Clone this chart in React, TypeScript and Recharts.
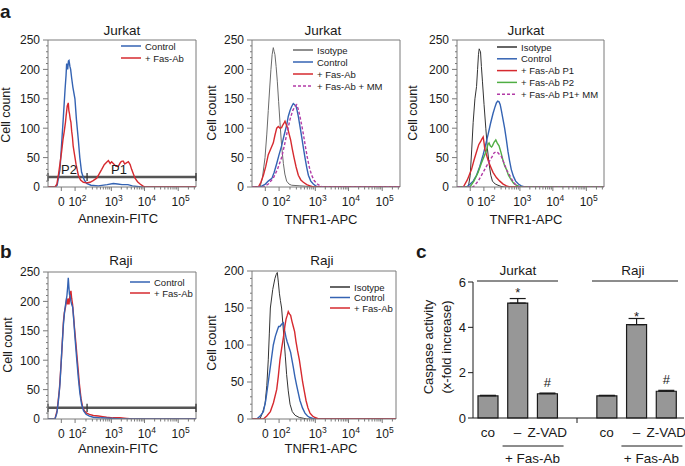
import React from "react";
import {
  LineChart,
  Line,
  XAxis,
  YAxis,
  ReferenceLine,
  BarChart,
  Bar,
  ErrorBar,
  LabelList,
} from "recharts";

const FONT = '"Liberation Sans", Arial, Helvetica, sans-serif';
const INK = "#1a1a1a";
const FRAME = "#7a7a7a";
const BLUE = "#3463b3";
const RED = "#d62a2f";
const GREEN = "#4fae43";
const PURPLE = "#b23aa6";

// flow cytometry x axis, in channel units (0..1000 across the plot)
const xTickPos = [90, 183, 428, 652, 880];
const xTickLabels = ["0", "10|2", "10|3", "10|4", "10|5"];

// histograms: [channel, cell count]
const annexinControlJ = [[0,0],[50,0],[62,3],[81,30],[95,85],[104,120],[115,165],[122,190],[126,210],[133,200],[138,214],[142,215],[148,205],[153,200],[160,185],[168,170],[182,150],[192,115],[205,80],[215,50],[227,25],[245,12],[261,6],[290,3],[340,2],[400,4],[441,6],[470,5],[500,4],[540,4],[570,2],[600,1],[630,0],[1000,0]];
const annexinFasJ = [[0,0],[47,0],[60,5],[70,20],[81,40],[92,60],[101,80],[110,95],[118,110],[122,120],[130,138],[137,143],[141,130],[145,125],[150,116],[155,110],[160,95],[165,85],[170,70],[176,60],[190,38],[205,20],[220,12],[239,8],[260,7],[284,8],[305,11],[329,15],[345,22],[363,30],[380,38],[396,42],[408,45],[420,40],[430,43],[441,40],[460,35],[475,35],[490,42],[500,44],[509,44],[518,39],[530,41],[543,43],[555,38],[565,30],[577,22],[588,15],[605,9],[622,5],[640,2],[655,0],[1000,0]];

const tnfIsoJ = [[0,0],[54,0],[70,15],[88,50],[100,90],[110,130],[120,170],[128,200],[136,225],[144,237],[150,230],[155,225],[163,205],[171,180],[180,145],[189,110],[200,70],[212,40],[222,22],[234,10],[250,5],[268,3],[324,2],[380,1],[414,0],[1000,0]];
const tnfControlJ = [[0,0],[54,0],[90,5],[110,10],[135,15],[150,25],[167,40],[183,55],[200,70],[217,88],[234,105],[245,120],[257,130],[268,137],[279,142],[288,140],[297,138],[305,130],[313,120],[325,102],[336,85],[347,67],[358,50],[370,33],[381,20],[397,10],[414,5],[430,2],[448,0],[1000,0]];
const tnfFasJ = [[0,0],[43,0],[60,8],[77,20],[93,35],[110,55],[127,65],[144,75],[155,88],[167,100],[178,103],[189,100],[200,101],[207,105],[215,108],[223,112],[232,106],[241,100],[251,90],[261,80],[272,65],[284,50],[298,34],[313,20],[330,12],[347,8],[370,4],[392,2],[415,0],[1000,0]];
const tnfFasMMJ = [[0,0],[77,0],[110,5],[144,15],[172,30],[200,50],[220,72],[239,95],[257,115],[275,130],[290,137],[302,140],[313,132],[324,120],[336,105],[347,90],[360,70],[374,50],[388,33],[403,20],[420,11],[441,5],[460,2],[480,0],[1000,0]];

const gateIsoJ = [[0,0],[77,0],[90,20],[100,63],[110,110],[122,150],[133,171],[140,200],[146,225],[151,235],[156,232],[160,230],[166,205],[173,180],[184,140],[196,100],[207,65],[218,40],[230,20],[241,10],[260,5],[279,3],[300,1],[320,0],[1000,0]];
const gateControlJ = [[0,0],[65,0],[90,5],[110,10],[133,20],[155,35],[178,55],[195,72],[212,90],[228,108],[245,125],[257,135],[268,143],[277,146],[286,145],[294,140],[302,130],[313,115],[324,100],[336,80],[347,60],[358,44],[369,30],[384,18],[399,10],[418,5],[437,2],[460,0],[1000,0]];
const gateP1J = [[0,0],[43,0],[70,12],[99,30],[115,45],[133,60],[148,72],[162,78],[170,82],[178,85],[184,75],[189,65],[200,55],[212,45],[228,35],[245,25],[268,16],[291,10],[314,5],[336,2],[360,0],[1000,0]];
const gateP2J = [[0,0],[88,0],[115,10],[144,25],[165,40],[189,55],[200,62],[210,72],[218,75],[226,70],[235,68],[241,70],[252,76],[264,80],[275,74],[286,70],[300,58],[313,45],[324,36],[336,30],[350,20],[369,12],[386,6],[403,3],[430,0],[1000,0]];
const gateP1MMJ = [[0,0],[110,0],[144,10],[178,25],[200,35],[223,45],[240,52],[252,58],[265,60],[279,58],[290,55],[302,52],[313,45],[324,38],[340,28],[358,20],[375,12],[392,6],[410,2],[426,0],[1000,0]];

const annexinControlR = [[0,0],[47,0],[60,10],[70,30],[81,60],[92,110],[104,160],[113,185],[122,200],[128,210],[133,225],[137,240],[141,225],[145,212],[149,210],[155,200],[160,195],[167,190],[175,165],[182,140],[193,105],[205,70],[215,45],[227,25],[240,14],[257,8],[280,5],[306,3],[360,2],[441,1],[500,0],[1000,0]];
const annexinFasR = [[0,0],[47,0],[62,15],[77,50],[90,100],[104,165],[110,180],[118,190],[126,205],[132,195],[138,205],[142,195],[148,210],[155,218],[160,205],[166,195],[171,180],[179,155],[188,130],[200,95],[212,60],[223,35],[234,20],[248,13],[261,10],[280,8],[306,6],[340,5],[370,4],[396,3],[440,2],[486,2],[530,1],[577,0],[1000,0]];

const tnfIsoR = [[0,0],[54,0],[70,8],[88,20],[100,45],[110,80],[117,115],[124,150],[140,175],[155,190],[163,195],[171,198],[178,185],[185,170],[192,160],[200,150],[208,130],[216,110],[225,85],[234,60],[245,38],[257,20],[272,10],[291,5],[320,2],[347,1],[370,0],[1000,0]];
const tnfControlR = [[0,0],[32,0],[55,4],[77,10],[93,25],[110,50],[127,75],[144,100],[158,112],[171,120],[180,125],[189,125],[200,128],[212,130],[220,120],[230,110],[238,104],[245,100],[253,95],[261,90],[270,80],[279,70],[290,57],[302,45],[313,35],[324,25],[341,15],[358,8],[375,4],[392,2],[420,0],[1000,0]];
const tnfFasR = [[0,0],[77,0],[100,4],[124,10],[145,22],[167,40],[178,58],[189,80],[200,95],[212,110],[222,125],[230,135],[238,140],[245,145],[253,142],[261,140],[270,132],[279,125],[288,118],[297,105],[308,92],[320,80],[331,65],[342,50],[354,37],[365,25],[378,15],[392,8],[409,4],[426,2],[450,0],[1000,0]];

// annexin gates P2 / P1
const gateBounds = [0, 264, 1000];
const gateLevelJ = 17;
const gateLevelR = 19;

// caspase assay
const caspaseCats = ["co", "–", "Z-VAD", "", "co", "–", "Z-VAD"];
const caspaseMeans = [0.98, 5.07, 1.07, null, 0.98, 4.12, 1.18];
const caspaseErrs = [0.02, 0.2, 0.03, null, 0.02, 0.27, 0.04];
const caspaseMarks = ["", "*", "#", "", "", "*", "#"];

const pts = (arr: number[][]) => arr.map(([ch, n]) => ({ ch, n }));

type Series = { name: string; data: number[][]; color: string; dashed?: boolean; w?: number };

const minorX: number[] = [];
for (let i = 1; i < xTickPos.length - 1; i++) {
  const a = xTickPos[i], b = xTickPos[i + 1];
  for (let k = 2; k <= 9; k++) minorX.push(a + Math.log10(k) * (b - a));
}
[2, 3].forEach((k) => minorX.push(880 + Math.log10(k) * 228));
const allXTicks = [...xTickPos, ...minorX].sort((a, b) => a - b);

const FlowXTick = (props: any) => {
  const { x, y, payload } = props;
  const idx = xTickPos.indexOf(payload.value);
  if (idx < 0) return <line x1={x} x2={x} y1={y} y2={y + 2.5} stroke={FRAME} />;
  const [base, exp] = xTickLabels[idx].split("|");
  return (
    <g>
      <line x1={x} x2={x} y1={y} y2={y + 4} stroke={FRAME} />
      <text x={exp ? x - 6.7 : x} y={y + 18.5} textAnchor={exp ? "start" : "middle"} fontSize={12} fill={INK}>
        {base}
        {exp && <tspan dy={-5} fontSize={8.5}>{exp}</tspan>}
      </text>
    </g>
  );
};

const CountTick = (props: any) => {
  const { x, y, payload } = props;
  const major = payload.value % 50 === 0;
  return (
    <g>
      <line x1={x - (major ? 5 : 2)} x2={x} y1={y} y2={y} stroke={FRAME} />
      {major && (
        <text x={x - 8} y={y} dy="0.36em" textAnchor="end" fontSize={12} fill={INK}>
          {payload.value}
        </text>
      )}
    </g>
  );
};

function Histogram({ box, xMax = 1000, yMax, series, gate }: {
  box: number[]; xMax?: number; yMax: number; series: Series[]; gate?: number;
}) {
  const [x0, y0, x1, y1] = box;
  const left = x0 - 48;
  const top = y0 - 10;
  const width = x1 - left + 6;
  const height = y1 - top + 40;
  const yTicks: number[] = [];
  for (let v = 0; v <= yMax; v += 10) yTicks.push(v);
  return (
    <div style={{ position: "absolute", left, top }}>
      <LineChart width={width} height={height} margin={{ top: 10, right: 6, bottom: 0, left: 8 }}>
        <XAxis type="number" dataKey="ch" domain={[0, xMax]} ticks={allXTicks.filter((t) => t <= xMax)}
          interval={0} tickSize={0} tickMargin={0} tickLine={false} tick={(p: any) => <FlowXTick {...p} />}
          height={40} axisLine={{ stroke: FRAME }} allowDataOverflow />
        <YAxis type="number" domain={[0, yMax]} ticks={yTicks} interval={0} width={40} tickSize={0}
          tickMargin={0} tickLine={false} tick={(p: any) => <CountTick {...p} />} axisLine={{ stroke: FRAME }}
          allowDataOverflow />
        <ReferenceLine y={yMax} stroke={FRAME} ifOverflow="visible" />
        <ReferenceLine x={xMax} stroke={FRAME} ifOverflow="visible" />
        {gate !== undefined && <ReferenceLine y={gate} stroke="#555" strokeWidth={2.5} />}
        {gate !== undefined &&
          gateBounds.map((g) => (
            <ReferenceLine key={g} segment={[{ x: g, y: gate - 7 }, { x: g, y: gate + 7 }]} stroke="#333"
              strokeWidth={1.3} ifOverflow="visible" />
          ))}
        {series.map((s) => (
          <Line key={s.name} data={pts(s.data)} dataKey="n" type="linear" stroke={s.color} dot={false}
            activeDot={false} strokeWidth={s.w ?? 1.4} strokeDasharray={s.dashed ? "3 2" : undefined}
            isAnimationActive={false} />
        ))}
      </LineChart>
    </div>
  );
}

function LegendBlock({ x, y, dy, series, lineW = 20 }: { x: number; y: number; dy: number; series: Series[]; lineW?: number }) {
  return (
    <g>
      {series.map((s, i) => (
        <g key={s.name}>
          <line x1={x} x2={x + lineW} y1={y + i * dy} y2={y + i * dy} stroke={s.color} strokeWidth={1.5}
            strokeDasharray={s.dashed ? "3 2" : undefined} />
          <text x={x + lineW + 4} y={y + i * dy + 3.5} fontSize={9.5} fill={INK}>{s.name}</text>
        </g>
      ))}
    </g>
  );
}

const a1Series: Series[] = [
  { name: "Control", data: annexinControlJ, color: BLUE },
  { name: "+ Fas-Ab", data: annexinFasJ, color: RED },
];
const a2Series: Series[] = [
  { name: "Isotype", data: tnfIsoJ, color: "#6a6a6a", w: 1 },
  { name: "Control", data: tnfControlJ, color: BLUE },
  { name: "+ Fas-Ab", data: tnfFasJ, color: RED },
  { name: "+ Fas-Ab + MM", data: tnfFasMMJ, color: PURPLE, dashed: true },
];
const a3Series: Series[] = [
  { name: "Isotype", data: gateIsoJ, color: "#333", w: 1 },
  { name: "Control", data: gateControlJ, color: BLUE },
  { name: "+ Fas-Ab P1", data: gateP1J, color: RED },
  { name: "+ Fas-Ab P2", data: gateP2J, color: GREEN },
  { name: "+ Fas-Ab P1+ MM", data: gateP1MMJ, color: PURPLE, dashed: true },
];
const b1Series: Series[] = [
  { name: "+ Fas-Ab", data: annexinFasR, color: RED },
  { name: "Control", data: annexinControlR, color: BLUE },
];
const b1Legend: Series[] = [b1Series[1], b1Series[0]];
const b2Series: Series[] = [
  { name: "Isotype", data: tnfIsoR, color: "#333", w: 1 },
  { name: "Control", data: tnfControlR, color: BLUE },
  { name: "+ Fas-Ab", data: tnfFasR, color: RED },
];

const caspaseData = caspaseCats.map((c, i) => ({
  key: i,
  mean: caspaseMeans[i],
  err: caspaseErrs[i] == null ? [0, 0] : [0, caspaseErrs[i] as number],
  mark: caspaseMarks[i],
}));

const CaspaseXTick = (props: any) => {
  const { x, y, payload } = props;
  const i = payload.value as number;
  const label = caspaseCats[i];
  return (
    <g>
      {label === "" && <line x1={x} x2={x} y1={y} y2={y + 5} stroke={INK} />}
      <text x={x} y={y + 19} textAnchor="middle" fontSize={13.5} fill={INK}>{label}</text>
      {label === "–" && (
        <g>
          <line x1={x - 15} x2={x + 46} y1={y + 28} y2={y + 28} stroke={INK} strokeWidth={1} />
          <text x={x + 15} y={y + 45} textAnchor="middle" fontSize={13.5} fill={INK}>+ Fas-Ab</text>
        </g>
      )}
    </g>
  );
};

const MarkLabel = (props: any) => {
  const { x, y, width, height, value, index } = props;
  if (!value) return null;
  const mean = caspaseMeans[index] as number;
  const err = caspaseErrs[index] as number;
  const errTop = y - (err * Math.abs(height)) / mean;
  return (
    <text x={x + width / 2} y={errTop - (value === "*" ? 2 : 6)} textAnchor="middle" fontSize={13} fill={INK}>
      {value}
    </text>
  );
};

function CaspaseChart() {
  return (
    <div style={{ position: "absolute", left: 420, top: 235 }}>
      <BarChart width={265} height={231} data={caspaseData} margin={{ top: 47, right: 1, left: 8, bottom: 0 }}>
        <XAxis dataKey="key" type="category" interval={0} tickLine={false} tickSize={0} tickMargin={0}
          height={48} padding={{ left: 0, right: 3 }} axisLine={{ stroke: INK }}
          tick={(p: any) => <CaspaseXTick {...p} />} />
        <YAxis type="number" domain={[0, 6]} ticks={[0, 2, 4, 6]} width={45} tickSize={5} tickMargin={2}
          axisLine={{ stroke: INK }} tickLine={{ stroke: INK }} tick={{ fill: INK, fontSize: 13 }} />
        <Bar dataKey="mean" fill="#979797" stroke="#1a1a1a" strokeWidth={1.2} barSize={20} isAnimationActive={false}>
          <ErrorBar dataKey="err" width={8} stroke="#1a1a1a" strokeWidth={1.2} direction="y" />
          <LabelList dataKey="mark" content={(p: any) => <MarkLabel {...p} />} />
        </Bar>
      </BarChart>
    </div>
  );
}

const Rot = ({ x, y, lines, size = 12.5 }: { x: number; y: number; lines: string[]; size?: number }) => (
  <g transform={`translate(${x},${y}) rotate(-90)`}>
    {lines.map((l, i) => (
      <text key={i} x={0} y={(i - (lines.length - 1) / 2) * (size + 5)} dy="0.35em" textAnchor="middle"
        fontSize={size} fill={INK}>{l}</text>
    ))}
  </g>
);

function Overlay() {
  const t = (x: number, y: number, s: string, size = 13.5, weight = 400, anchor = "middle") => (
    <text x={x} y={y} fontSize={size} fontWeight={weight} textAnchor={anchor as any} fill={INK}>{s}</text>
  );
  return (
    <svg width={685} height={466} style={{ position: "absolute", left: 0, top: 0, pointerEvents: "none" }}>
      {t(0, 18, "a", 19, 700, "start")}
      {t(0, 258, "b", 19, 700, "start")}
      {t(416, 258, "c", 19, 700, "start")}

      {t(122, 35, "Jurkat")}
      {t(323, 35, "Jurkat")}
      {t(526, 35, "Jurkat")}
      {t(121, 265, "Raji")}
      {t(322, 265, "Raji")}

      <Rot x={6} y={115} lines={["Cell count"]} />
      <Rot x={212} y={113} lines={["Cell count"]} />
      <Rot x={413} y={113} lines={["Cell count"]} />
      <Rot x={8} y={345} lines={["Cell count"]} />
      <Rot x={212} y={343} lines={["Cell count"]} />
      <Rot x={437} y={347} lines={["Caspase activity", "(x-fold increase)"]} size={13} />

      {t(118, 223, "Annexin-FITC", 13)}
      {t(321, 224, "TNFR1-APC", 13)}
      {t(526, 224, "TNFR1-APC", 13)}
      {t(118, 453, "Annexin-FITC", 13)}
      {t(321, 453, "TNFR1-APC", 13)}

      {t(69, 174, "P2", 13)}
      {t(119, 174, "P1", 13)}

      <LegendBlock x={121} y={46} dy={12} series={a1Series} />
      <LegendBlock x={293} y={50} dy={12} series={a2Series} />
      <LegendBlock x={497} y={47} dy={11.8} series={a3Series} />
      <LegendBlock x={130} y={282} dy={11} series={b1Legend} />
      <LegendBlock x={330} y={287} dy={10.5} series={b2Series} />

      {t(518, 275, "Jurkat")}
      <line x1={477} x2={558} y1={281} y2={281} stroke={INK} />
      {t(633, 275, "Raji")}
      <line x1={592} x2={678} y1={281} y2={281} stroke={INK} />
    </svg>
  );
}

export default function App() {
  return (
    <div style={{ position: "absolute", left: 0, top: 0, width: 685, height: 466, background: "#fff", fontFamily: FONT, overflow: "hidden" }}>
      <Histogram box={[48, 40, 196, 187]} yMax={250} series={a1Series} gate={gateLevelJ} />
      <Histogram box={[252, 40, 400, 187]} yMax={250} series={a2Series} />
      <Histogram box={[457, 40, 604, 187]} yMax={250} series={a3Series} />
      <Histogram box={[48, 272, 196, 419]} yMax={250} series={b1Series} gate={gateLevelR} />
      <Histogram box={[252, 271, 396, 419]} xMax={973} yMax={200} series={b2Series} />
      <CaspaseChart />
      <Overlay />
    </div>
  );
}
